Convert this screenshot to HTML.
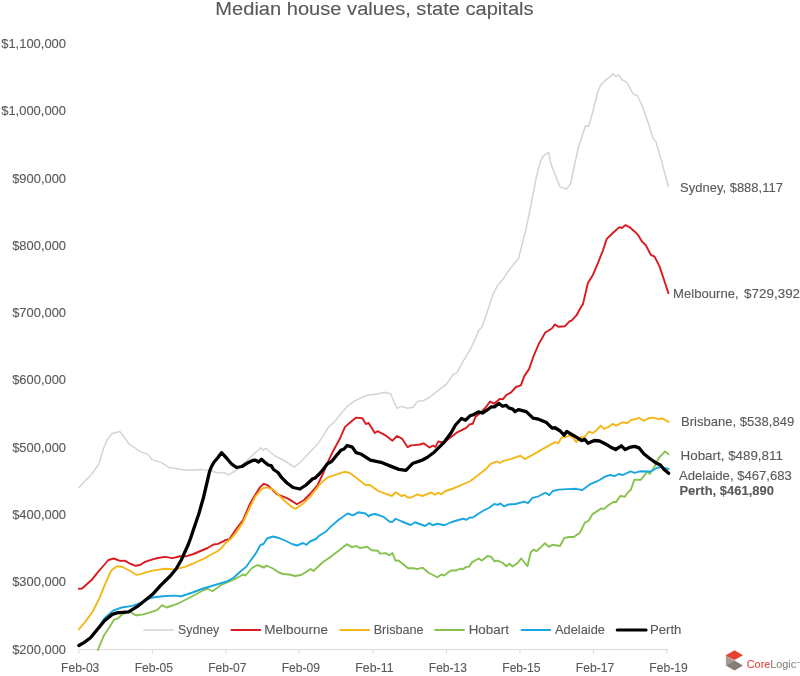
<!DOCTYPE html>
<html><head><meta charset="utf-8"><style>
html,body{margin:0;padding:0;background:#fff;width:800px;height:676px;overflow:hidden}
svg{display:block;will-change:transform;font-family:"Liberation Sans",sans-serif;font-size:13px;fill:#595959}
text{stroke:#595959;stroke-width:0.12px}
</style></head><body>
<svg width="800" height="676" viewBox="0 0 800 676">
<text x="66" y="653.6" text-anchor="end" textLength="53.8" lengthAdjust="spacingAndGlyphs">$200,000</text>
<text x="66" y="586.3" text-anchor="end" textLength="53.8" lengthAdjust="spacingAndGlyphs">$300,000</text>
<text x="66" y="519.0" text-anchor="end" textLength="53.8" lengthAdjust="spacingAndGlyphs">$400,000</text>
<text x="66" y="451.7" text-anchor="end" textLength="53.8" lengthAdjust="spacingAndGlyphs">$500,000</text>
<text x="66" y="384.4" text-anchor="end" textLength="53.8" lengthAdjust="spacingAndGlyphs">$600,000</text>
<text x="66" y="317.1" text-anchor="end" textLength="53.8" lengthAdjust="spacingAndGlyphs">$700,000</text>
<text x="66" y="249.8" text-anchor="end" textLength="53.8" lengthAdjust="spacingAndGlyphs">$800,000</text>
<text x="66" y="182.5" text-anchor="end" textLength="53.8" lengthAdjust="spacingAndGlyphs">$900,000</text>
<text x="66" y="115.2" text-anchor="end" textLength="64.8" lengthAdjust="spacingAndGlyphs">$1,000,000</text>
<text x="66" y="47.9" text-anchor="end" textLength="64.8" lengthAdjust="spacingAndGlyphs">$1,100,000</text>
<line x1="78.5" y1="649.5" x2="668" y2="649.5" stroke="#d9d9d9" stroke-width="1"/>
<line x1="78.8" y1="649" x2="78.8" y2="653.5" stroke="#d9d9d9" stroke-width="1"/>
<text x="80.2" y="671.75" text-anchor="middle" textLength="38.3" lengthAdjust="spacingAndGlyphs">Feb-03</text>
<line x1="152.3" y1="649" x2="152.3" y2="653.5" stroke="#d9d9d9" stroke-width="1"/>
<text x="153.8" y="671.75" text-anchor="middle" textLength="38.3" lengthAdjust="spacingAndGlyphs">Feb-05</text>
<line x1="225.8" y1="649" x2="225.8" y2="653.5" stroke="#d9d9d9" stroke-width="1"/>
<text x="227.3" y="671.75" text-anchor="middle" textLength="38.3" lengthAdjust="spacingAndGlyphs">Feb-07</text>
<line x1="299.3" y1="649" x2="299.3" y2="653.5" stroke="#d9d9d9" stroke-width="1"/>
<text x="300.8" y="671.75" text-anchor="middle" textLength="38.3" lengthAdjust="spacingAndGlyphs">Feb-09</text>
<line x1="372.9" y1="649" x2="372.9" y2="653.5" stroke="#d9d9d9" stroke-width="1"/>
<text x="374.4" y="671.75" text-anchor="middle" textLength="38.3" lengthAdjust="spacingAndGlyphs">Feb-11</text>
<line x1="446.4" y1="649" x2="446.4" y2="653.5" stroke="#d9d9d9" stroke-width="1"/>
<text x="447.9" y="671.75" text-anchor="middle" textLength="38.3" lengthAdjust="spacingAndGlyphs">Feb-13</text>
<line x1="519.9" y1="649" x2="519.9" y2="653.5" stroke="#d9d9d9" stroke-width="1"/>
<text x="521.4" y="671.75" text-anchor="middle" textLength="38.3" lengthAdjust="spacingAndGlyphs">Feb-15</text>
<line x1="593.5" y1="649" x2="593.5" y2="653.5" stroke="#d9d9d9" stroke-width="1"/>
<text x="595.0" y="671.75" text-anchor="middle" textLength="38.3" lengthAdjust="spacingAndGlyphs">Feb-17</text>
<line x1="667.0" y1="649" x2="667.0" y2="653.5" stroke="#d9d9d9" stroke-width="1"/>
<text x="668.5" y="671.75" text-anchor="middle" textLength="38.3" lengthAdjust="spacingAndGlyphs">Feb-19</text>
<polyline points="79,487.6 85,481 91,475 99,464 103,450 107,440 112,433.6 120,431.6 124,437 129,444 135,448 140,451.6 148,454.4 152,459.6 161,462.4 169,467.6 179,469 185,470 195,470 201,469.5 209,470.4 215.8,472.2 220.3,473 224,472.5 228.3,474.9 236,470.5 249.5,458 255.5,452.5 260.7,447.7 263,450 266,448.2 270.5,452.2 275,456 284,460.5 294.5,467.2 302,460.5 310,452 318,443.7 323.3,435.7 328.6,426.8 334,422.4 341.1,413.5 347.3,406.4 354.4,401.1 361.5,397.5 368.6,394.9 377.5,394 384.6,392.2 390.8,394 394.3,402.8 397,408.2 401.4,406.4 407.6,408.2 413,407.3 417.4,401.6 423.6,400.5 430,397 438.3,390.4 446.6,384.2 452.8,374.9 456.9,372.8 463.1,361.4 469.3,351.1 474.5,340.7 478.7,330.4 481.8,327.3 485.9,315.9 490,303.5 493.1,294.2 497.3,285.9 503.5,278.6 508.7,270.4 518.6,258.4 521.7,245.9 525.9,229.4 531.1,204.5 536.2,177.6 540.4,161.1 543.5,155.9 548.7,152.4 550.7,163.1 553.8,171.4 560,186.9 566.3,189 570.4,184.2 574.3,166 578.5,147 582.8,134.1 585.5,125.8 588.6,126.3 592.8,111.8 598,91.1 601.1,84.4 606.2,79.7 610.4,76.6 612.9,73.5 615.5,76.6 618.7,74.9 621.8,79.7 626.9,82.4 632.1,92.1 634.2,94.8 637.3,95.2 642.5,106.6 648.7,124.2 652.8,137.6 655.9,141.8 661.1,159.4 668.3,186.3" fill="none" stroke="#d4d4d4" stroke-width="1.5" stroke-linejoin="round" stroke-linecap="round"/>
<polyline points="78.9,588.8 82,588.5 85.9,585 91.3,580.3 98.3,571.7 103.7,565.5 108.4,560 113.8,558.5 120,560.9 124.7,560.6 130.1,563.7 135.6,565.8 140,565 145,561.9 152.5,559.4 158,558 165,556.9 172.5,558.1 180,556.25 186,556.3 193.4,554 200.5,551 207.6,548 213.5,544.5 218,543.9 223.7,541.2 225,540.2 229.5,539.1 236.25,529 243,520 249.75,504.25 254.25,496.4 259.9,487.4 263.8,483.8 267.75,485.1 272.25,489.6 276.75,494.1 281.25,495.8 288,498.6 292.5,501.4 297,504.25 304,500 310,494 317.6,485 323.3,473 328.5,460.5 333.6,450.2 339.8,438.8 345,426.9 349.2,423.3 355,418.6 356.2,417.6 362.4,418.3 365.9,424.1 368.6,422.9 374.8,433 377.5,431.2 384.6,434.8 392.5,440.7 397,436 402.3,438.9 407.6,447.2 411.2,445.4 416.5,444.9 420,444.5 423.55,443.3 429.5,447.5 433,445.7 435.4,446.9 438.3,441.5 443.7,442.7 452,436.2 456.7,432.7 460.2,430.9 466.15,427.9 469.7,424.4 472.7,423.8 475.6,416.7 481.5,412 486.3,406.6 490,401.6 494,403.7 499.75,398.9 503,399.2 506.25,395.1 511.1,392.35 516,387 520.9,385.4 524.15,376.4 529,369.1 533.9,355.3 538.8,343.9 545.3,332.5 551.8,328.5 555,324.4 558.3,326.8 564.8,326.3 569.7,321.1 571.5,320.7 576.6,315.2 580.3,308.2 582.9,304.4 587.9,283 592.9,274.9 598,262.9 603,250.3 606.8,238.9 613.1,232.7 619.4,227.1 621.9,228.1 625.6,225.1 629.4,227.1 634.5,231.4 638.2,235.2 642,241.5 645.8,245.2 650.8,254.8 654.6,256.6 659.6,266.6 663.4,278 668.4,293.1" fill="none" stroke="#da1a1f" stroke-width="1.9" stroke-linejoin="round" stroke-linecap="round"/>
<polyline points="78.8,629.5 85.8,621.1 92.9,611.25 99.9,597.2 105.5,583.1 111.2,570.5 116.8,566.25 122.4,567 129.4,570.5 136,574.7 140,574.4 146,572.4 152.5,570.6 165,568.75 175,569.4 185,566.9 192.5,563.75 205,558.1 209.2,555.5 217.5,551.25 222,547.5 225,543.6 230.6,539.1 236.25,532.4 243,522.25 249.75,507.6 255.4,496.4 262.1,488.5 266.6,487.4 273.4,489.6 279,495.25 285.75,502 292.5,507.6 295.9,508.75 303.75,503.1 310.5,496.4 315,490.75 319.2,485.1 322.4,481.8 328.1,477.1 337,474.4 344.1,471.8 349.4,472.7 356.5,478 365.4,485.1 370,485 377.5,490.6 383.75,493.1 391.9,496 395.6,492.25 401.25,496 404.4,495 407.5,497.5 411.25,497.5 417.5,494.4 422.5,496 431.25,492.5 435,494.75 438.1,492.5 441.25,494.4 445,491.25 452.5,488.75 460,485.6 470,481.25 478.3,475 487.1,467.9 490.25,464.2 497,461.4 499.8,463 503.75,460.8 510.5,459.1 520.6,455.75 524.6,459.1 533,454.6 540.9,450.1 548.75,445.6 555,442.1 558.2,443.2 561.4,437.8 565.6,436.8 569.9,435.7 573.1,437.8 576.25,442.1 580.5,437.3 584.2,437.3 589,431.5 592.7,433.1 596.4,430.4 600.7,425.6 603.9,428.8 608.1,427.2 612.4,424 616.6,425.6 621.9,422.4 627.3,423 631.5,419.8 635.8,419.25 639,417.7 643.8,420.7 648.5,418.3 653.25,417.7 658,419.2 662.1,418.3 668.6,421.8" fill="none" stroke="#f2b81a" stroke-width="1.9" stroke-linejoin="round" stroke-linecap="round"/>
<polyline points="97.8,650 104.1,635.2 109.75,626.7 114,619.7 118.2,618.3 122.4,614.1 129.4,611.25 133.7,614.1 136,615.5 137.1,615.2 143.3,614.4 151.1,612.1 157.3,609.8 162,605.1 166.6,607.5 175.9,604.3 177.5,603.75 190,597.5 203.75,590 207.5,588.75 212.5,591.25 221.25,585 230,581.25 236,578.5 243,574.5 245.5,575.5 252,568 257.5,565 264,567.5 266.5,565.5 273,568.5 278,572 283,574 289,574.5 295,576 301,575 306,572 310.5,569 313.5,571 316,568.5 322.8,562.3 331.6,556.1 338.7,550.8 346.7,544.2 352,547.2 356.5,546 360,548.1 367.1,546.7 371.6,550.2 377.8,550.8 380,553.6 385.6,553.1 389.6,555.3 392.4,553.1 395.75,560.9 398.6,560.4 408.1,568.25 413.75,568.25 417.1,569.1 422.75,567.7 428.4,572.75 437.4,577.25 441.3,574.4 444.1,575.6 450.9,570.5 456.5,570.5 460,568.75 462.5,569.4 466.25,566.9 468.75,566.9 472.5,561.9 478.75,558.5 481.9,560.6 487.5,556 491.25,556.9 494.4,561.25 497.5,560.6 502.5,562.75 506.25,566.25 509.4,563.75 512.5,566.5 517.5,563.1 521.25,558.5 527.5,566.25 530.6,552.5 533.75,549.4 536.25,551.25 540,548.1 545,543.1 548.75,546.9 552.5,544.75 560,546 564.2,538.1 568.7,537 573.8,537 579.8,532.9 585,522.5 588.6,520.8 592.3,514.4 596.8,511.4 601.2,508.5 604.2,508.9 607.9,505.5 613.8,501.8 616,502.1 620.4,495.9 624.9,496.7 628.6,491.5 630.8,490 634.3,479.8 640.8,479.8 647.3,471.5 649.7,473.9 654.4,466.8 659.2,457.3 665.1,451.4 668.6,454.4" fill="none" stroke="#88c24e" stroke-width="1.9" stroke-linejoin="round" stroke-linecap="round"/>
<polyline points="78.9,645.5 84.3,642.4 90.5,637.7 97.5,629.2 104.5,618.3 113,610.6 121.6,607.5 132.5,605.9 143.3,602 145,600 152.5,597.5 162.5,596.25 173.75,595.6 181.25,596.25 192.5,592.5 202.5,588.75 215,585 227.5,581.25 234,577.5 236,575.5 241,571 246,567 251,560 256,553 260.5,545 263.5,544 267,538.5 273,536.5 279,538 286,541 292,544 297,545.5 303,543 306.5,544.8 310,541.5 316,539 319.2,535.7 326.3,531.2 331.6,525.9 338.7,519.7 347.6,513.5 352.9,515.3 358.3,512.3 365.4,513.5 368.9,516.5 370,515 375,514 383.75,516.9 390,521.9 392.5,521.9 395.6,518.75 401.25,521.25 410.6,525 415,522.25 425,526 429.4,523.1 432.5,525.25 437.5,523.75 444.4,525.25 451.25,522.25 457.5,520.25 463.1,518.75 466.25,519.75 470,517.5 472.9,517.6 478.3,513.7 483.6,510.5 488.9,508 494.2,504 497.8,504.9 500.4,503.4 504,506.3 508.4,504.5 515.5,504 524.4,501.7 528,503.1 532.4,497.8 538.6,496.3 542.2,494.2 545.7,492.8 549.3,495.1 552.8,491 558.9,489.6 567.8,489.1 576.6,488.8 582,490.2 590.8,483.8 597.9,480.8 599.6,480 605,476.6 610.3,475 614.5,476.1 618.75,474 623,475 630.5,471.3 634.7,472.9 640,471.3 647.3,471.5 650.9,471.5 656.8,468 661.5,466.8 668.6,469.2" fill="none" stroke="#1aa7e0" stroke-width="1.9" stroke-linejoin="round" stroke-linecap="round"/>
<polyline points="78.9,645.5 84.3,642.4 90.5,637.7 97.5,629.2 104.5,620.7 112.3,614.4 116.9,612.9 128.6,611.8 137.1,606.7 144.9,600.5 152.6,594.3 160.4,585.7 168.2,578 170,576.3 176.25,568.75 181.25,560 183.5,555 187.5,546.3 190.5,538.5 193.4,529.7 198.7,514.3 203.4,497.75 207.6,480 209.6,471.3 211.5,466.5 214.1,462 217.6,458 221.5,452.7 226.5,458 231.8,464.2 236.5,467.5 242,466.5 248,462.7 252.5,460.5 255.5,460.2 258.5,462 261.5,459.3 264.5,462 268.2,465 271.2,465.7 273.5,469.5 278,472.5 281.7,477.7 287,483 293,487.5 300,489 306,485 313,478.5 315,478.1 320.2,473 323.5,469 327.4,463.7 331.6,461.6 335.7,456.4 340.9,450.2 344,449 347.1,445.5 352.3,447.1 355,451.2 356.2,452.6 361.5,454.3 370.4,460.2 381,462.3 389.9,465.9 398.8,469.4 405.9,470.3 413,463.2 420.1,460.9 422.4,460 427.1,457.5 434.2,452.2 443.7,442.7 450.8,433.25 455.5,425 461.4,418.5 465.6,420.2 470,415.8 473.4,414.7 478.4,411.9 482.4,413 486.9,410.2 491.4,406.8 494.75,406.8 498.7,403.4 502.6,406.25 506,405.3 508.8,407.9 512.75,409.1 515,411.6 518.4,409.6 526.25,411.6 533,418.1 538.6,419.2 546.5,422.6 552.1,428.2 555,427.75 560.3,431 564,435.2 566.7,431.5 573.1,435.2 581.6,440.5 584.75,439.4 588,443.2 594.3,440.5 599.6,441 606,444.2 610.3,446.9 615.6,449.5 621.4,445.8 625.1,449.5 629.4,447.4 634.7,446.35 639,447.9 643.8,453.8 649.7,458.5 655.6,462.7 660.4,465 663.9,469.2 668.6,473.3" fill="none" stroke="#000000" stroke-width="3.3" stroke-linejoin="round" stroke-linecap="round"/>
<line x1="143.85" y1="630" x2="173.45" y2="630" stroke="#d4d4d4" stroke-width="1.5" stroke-linecap="round"/>
<text x="178.0" y="633.7" font-size="13.4" textLength="41.2" lengthAdjust="spacingAndGlyphs">Sydney</text>
<line x1="231.45" y1="630" x2="260.25" y2="630" stroke="#da1a1f" stroke-width="1.9" stroke-linecap="round"/>
<text x="264.2" y="633.7" font-size="13.4" textLength="63.8" lengthAdjust="spacingAndGlyphs">Melbourne</text>
<line x1="340.15" y1="630" x2="369.05" y2="630" stroke="#f2b81a" stroke-width="1.9" stroke-linecap="round"/>
<text x="373.7" y="633.7" font-size="13.4" textLength="49.9" lengthAdjust="spacingAndGlyphs">Brisbane</text>
<line x1="435.15" y1="630" x2="464.05" y2="630" stroke="#88c24e" stroke-width="1.9" stroke-linecap="round"/>
<text x="468.7" y="633.7" font-size="13.4" textLength="40.2" lengthAdjust="spacingAndGlyphs">Hobart</text>
<line x1="521.45" y1="630" x2="550.25" y2="630" stroke="#1aa7e0" stroke-width="1.9" stroke-linecap="round"/>
<text x="555.0" y="633.7" font-size="13.4" textLength="49.9" lengthAdjust="spacingAndGlyphs">Adelaide</text>
<line x1="617.20" y1="630" x2="646.10" y2="630" stroke="#000000" stroke-width="3.0" stroke-linecap="round"/>
<text x="649.9" y="633.7" font-size="13.4" textLength="31.5" lengthAdjust="spacingAndGlyphs">Perth</text>
<text x="680.1" y="191.7" font-size="13.6" textLength="102.8" lengthAdjust="spacingAndGlyphs">Sydney, $888,117</text>
<text x="681.05" y="426.45" font-size="13.6" textLength="113.2" lengthAdjust="spacingAndGlyphs">Brisbane, $538,849</text>
<text x="680.6" y="459.9" font-size="13.6" textLength="102.3" lengthAdjust="spacingAndGlyphs">Hobart, $489,811</text>
<text x="678.9" y="479.75" font-size="13.6" textLength="113.0" lengthAdjust="spacingAndGlyphs">Adelaide, $467,683</text>
<text x="679.4" y="495.2" font-size="13.6" textLength="94.6" lengthAdjust="spacingAndGlyphs" font-weight="bold" stroke-width="0">Perth, $461,890</text>
<text x="673.1" y="298.06" font-size="13.6" textLength="65.5" lengthAdjust="spacingAndGlyphs">Melbourne,</text>
<text x="744.1" y="298.06" font-size="13.6" textLength="56" lengthAdjust="spacingAndGlyphs">$729,392</text>
<text x="215.3" y="14.6" font-size="18" stroke-width="0" textLength="318.3" lengthAdjust="spacingAndGlyphs">Median house values, state capitals</text>
<polygon points="725.85,655.3 734.5,650.3 743,655.3 734.5,660.1 725.85,656" fill="#ea4030"/>
<polygon points="725.85,656 734.5,660.6 725.85,665.5" fill="#a39c95"/>
<polygon points="725.85,665.5 734.5,660.6 743,665.5 734.5,670.6" fill="#857d77"/>
<text x="746.8" y="668" font-size="10.2" textLength="49.4" stroke-width="0.5" lengthAdjust="spacingAndGlyphs"><tspan fill="#e8463c" stroke="#e8463c">Core</tspan><tspan fill="#8a8580" stroke="#8a8580">Logic</tspan></text>
<text x="796.8" y="662.5" font-size="2.4" stroke-width="0" fill="#b0aaa5">TM</text>
</svg>
</body></html>
